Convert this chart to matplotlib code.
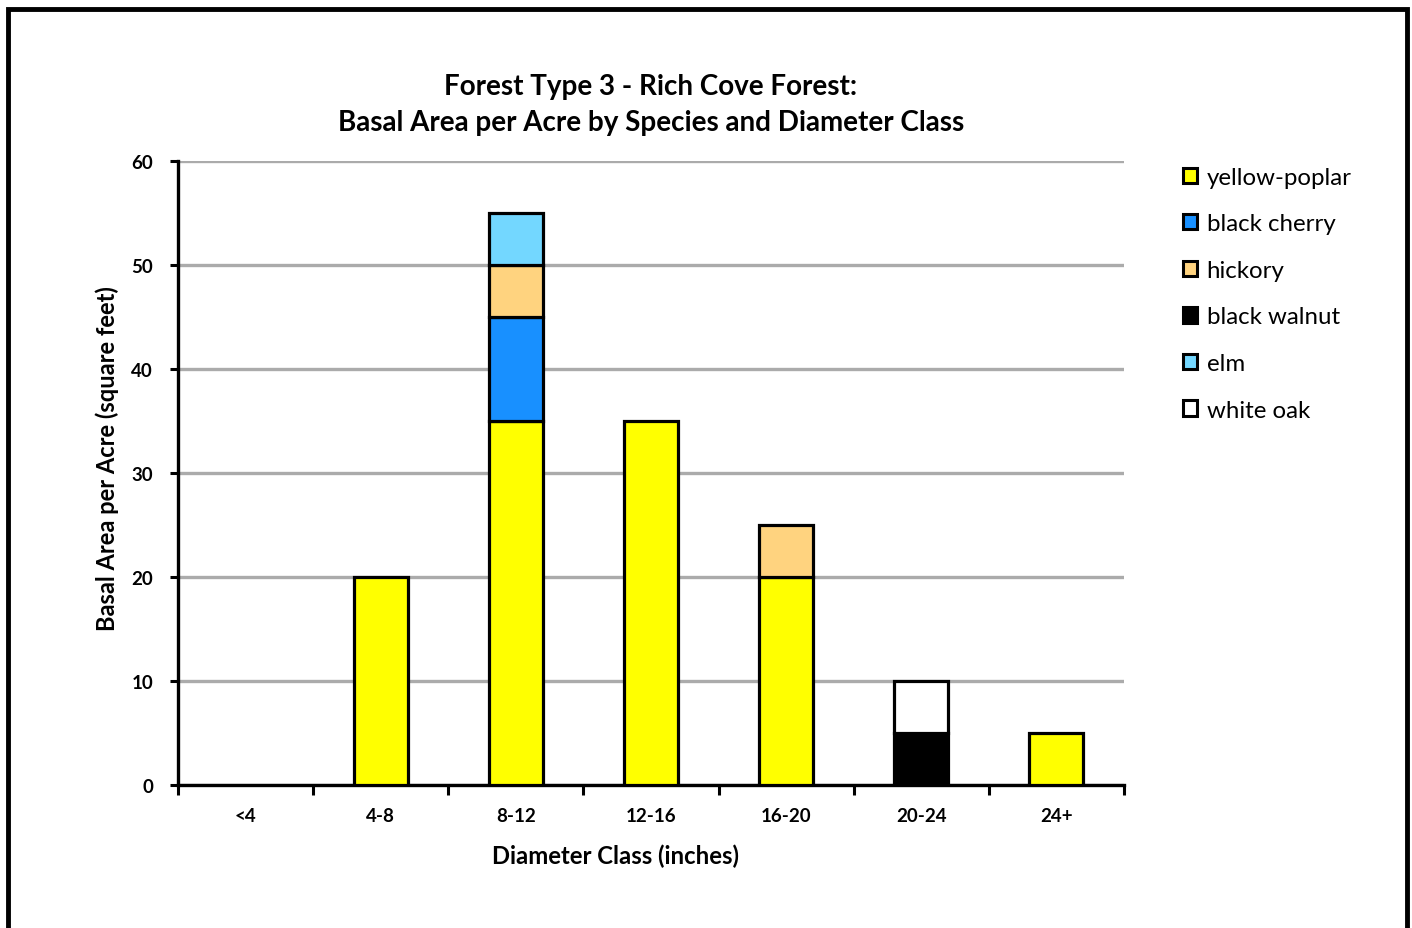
import matplotlib
matplotlib.use('Agg')
import matplotlib.pyplot as plt
import numpy as np
from matplotlib.patches import Patch, Rectangle

plt.rcParams['font.family'] = ['Lato', 'DejaVu Sans']

classes = ['<4', '4-8', '8-12', '12-16', '16-20', '20-24', '24+']
species = ['yellow-poplar', 'black cherry', 'hickory', 'black walnut', 'elm', 'white oak']
colors = ['#FFFF00', '#1890FF', '#FFD37F', '#000000', '#73D7FF', '#FFFFFF']

yellow_poplar = [0, 20, 35, 35, 20, 0, 5]
black_cherry = [0, 0, 10, 0, 0, 0, 0]
hickory = [0, 0, 5, 0, 5, 0, 0]
black_walnut = [0, 0, 0, 0, 0, 5, 0]
elm = [0, 0, 5, 0, 0, 0, 0]
white_oak = [0, 0, 0, 0, 0, 5, 0]

series = [yellow_poplar, black_cherry, hickory, black_walnut, elm, white_oak]

fig = plt.figure(figsize=(14.12, 9.29), dpi=100)
fig.patch.set_facecolor('white')
ax = fig.add_axes([178 / 1412, 1 - 786 / 929, (1124 - 178) / 1412, (786 - 162) / 929])

x = np.arange(len(classes))
bottom = np.zeros(len(classes))
for vals, col in zip(series, colors):
    vals = np.array(vals, dtype=float)
    keep = vals > 0
    ax.bar(x[keep], vals[keep], bottom=bottom[keep], width=0.4,
           color=col, edgecolor='black', linewidth=2.3, zorder=3)
    bottom += vals

ax.set_xlim(-0.5, len(classes) - 0.5)
ax.set_ylim(0, 60)
ax.set_yticks(range(0, 61, 10))
ax.yaxis.grid(True, color='#ababab', linewidth=2.4, zorder=0)
ax.set_axisbelow(True)

# category labels sit between boundary ticks
ax.set_xticks(np.arange(len(classes) + 1) - 0.5)
ax.set_xticklabels([])
ax.set_xticks(x, minor=True)
ax.set_xticklabels(classes, minor=True, fontsize=13.5, fontweight='bold')
ax.tick_params(axis='x', which='major', direction='out', length=7, width=2.2, color='black')
ax.tick_params(axis='x', which='minor', length=0, pad=16)
ax.tick_params(axis='y', direction='out', length=6, width=2.2, labelsize=13.5, pad=12)
for lbl in ax.get_yticklabels():
    lbl.set_fontweight('bold')

for side in ['top', 'right']:
    ax.spines[side].set_visible(False)
for side in ['left', 'bottom']:
    ax.spines[side].set_linewidth(2.4)

fig.text(651 / 1412, 1 - 87 / 929, 'Forest Type 3 - Rich Cove Forest:', ha='center', va='center',
         fontsize=20, fontweight='bold')
fig.text(651 / 1412, 1 - 123 / 929, 'Basal Area per Acre by Species and Diameter Class',
         ha='center', va='center', fontsize=20, fontweight='bold')
fig.text(616 / 1412, 1 - 856 / 929, 'Diameter Class (inches)', ha='center', va='center',
         fontsize=17.2, fontweight='bold')
fig.text(107 / 1412, 1 - 459 / 929, 'Basal Area per Acre (square feet)', ha='center', va='center',
         rotation=90, fontsize=17, fontweight='bold')

handles = [Patch(facecolor=c, edgecolor='black', linewidth=2.2) for c in colors]
fig.legend(handles, species, loc='upper left', bbox_to_anchor=(1161 / 1412, 1 - 146 / 929),
           frameon=False, fontsize=17.3, handlelength=0.6, handleheight=0.6,
           handletextpad=0.4, labelspacing=1.065)

# outer frame around the chart area
fig.add_artist(Rectangle((8 / 1412, -0.05), (1407 - 8) / 1412, 1.05 - 10 / 929,
                         transform=fig.transFigure, fill=False, edgecolor='black',
                         linewidth=3.5))

fig.savefig('out.png', dpi=100, facecolor='white')
